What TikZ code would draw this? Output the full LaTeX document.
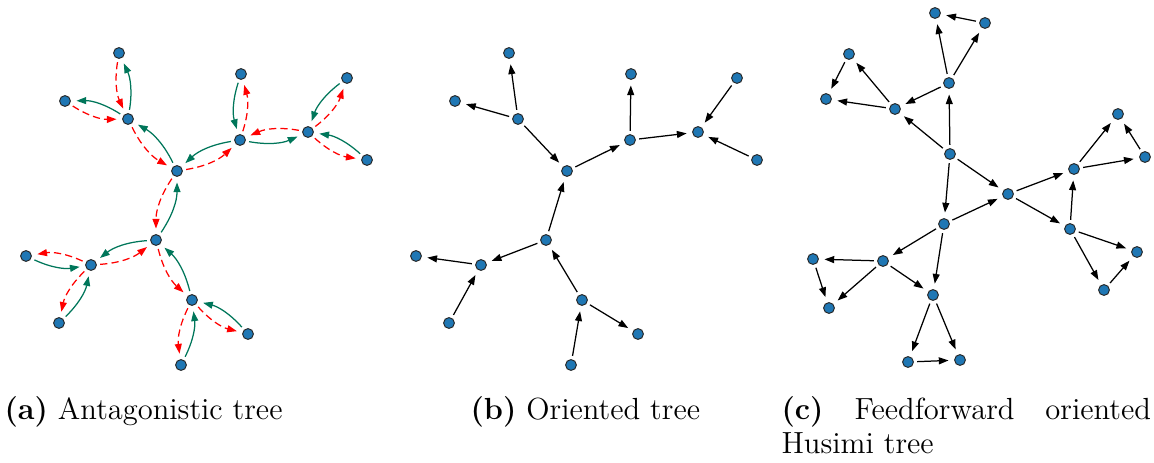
\documentclass[tikz,border=0pt]{standalone}
\usepackage{amsmath}
\usepackage{xcolor}
\usepackage{tikz}
\usetikzlibrary{
  arrows.meta,
  calc
}
\definecolor{netblue}{RGB}{31,119,180}
\definecolor{netgreen}{RGB}{0,118,90}
\tikzset{
  vtx/.style={
    circle,
    fill=netblue,
    draw=black!85,
    line width=0.35pt,
    inner sep=0pt,
    minimum size=3.9pt},
  dedge/.style={
    -{Triangle[length=3.5pt,width=2.5pt]},
    line width=0.45pt,
    shorten >=2pt,
    shorten <=1.2pt},
  gedge/.style={
    dedge,
    draw=netgreen,
    bend right=17},
  redge/.style={
    dedge,
    draw=red,
    dash pattern=on 2.6pt off 1.5pt,
    bend right=17},
  subcap/.style={
    inner sep=0pt,
    font=\fontsize{11}{12.2}\selectfont}
  }

\begin{document}
\begin{tikzpicture}[x=0.36pt, y=-0.36pt]
    \useasboundingbox (0,0) rectangle (1154,462);
    % (a) antagonistic tree
    \node[vtx] (a1) at (119,53) {};
    \node[vtx] (a2) at (65,101) {};
    \node[vtx] (a3) at (128,119) {};
    \node[vtx] (a4) at (177,171) {};
    \node[vtx] (a5) at (241,74) {};
    \node[vtx] (a6) at (347,78) {};
    \node[vtx] (a7) at (240,140) {};
    \node[vtx] (a8) at (308,132) {};
    \node[vtx] (a9) at (367,160) {};
    \node[vtx] (a10) at (156,240) {};
    \node[vtx] (a11) at (26,256) {};
    \node[vtx] (a12) at (91,265) {};
    \node[vtx] (a13) at (59,323) {};
    \node[vtx] (a14) at (192,300) {};
    \node[vtx] (a15) at (248,334) {};
    \node[vtx] (a16) at (181,365) {};
    \draw
    (a3) edge[gedge] (a1)
    (a1) edge[redge] (a3)
    (a3) edge[gedge] (a2)
    (a2) edge[redge] (a3)
    (a4) edge[gedge] (a3)
    (a3) edge[redge] (a4)
    (a7) edge[gedge] (a4)
    (a4) edge[redge] (a7)
    (a5) edge[gedge] (a7)
    (a7) edge[redge] (a5)
    (a7) edge[gedge] (a8)
    (a8) edge[redge] (a7)
    (a6) edge[gedge] (a8)
    (a8) edge[redge] (a6)
    (a9) edge[gedge] (a8)
    (a8) edge[redge] (a9)
    (a10) edge[gedge] (a4)
    (a4) edge[redge] (a10)
    (a10) edge[gedge] (a12)
    (a12) edge[redge] (a10)
    (a11) edge[gedge] (a12)
    (a12) edge[redge] (a11)
    (a13) edge[gedge] (a12)
    (a12) edge[redge] (a13)
    (a14) edge[gedge] (a10)
    (a10) edge[redge] (a14)
    (a15) edge[gedge] (a14)
    (a14) edge[redge] (a15)
    (a16) edge[gedge] (a14)
    (a14) edge[redge] (a16);
    % (b) oriented tree
    \node[vtx] (b1) at (509,53) {};
    \node[vtx] (b2) at (455,101) {};
    \node[vtx] (b3) at (518,119) {};
    \node[vtx] (b4) at (567,171) {};
    \node[vtx] (b5) at (631,74) {};
    \node[vtx] (b6) at (737,78) {};
    \node[vtx] (b7) at (630,140) {};
    \node[vtx] (b8) at (698,132) {};
    \node[vtx] (b9) at (757,160) {};
    \node[vtx] (b10) at (546,240) {};
    \node[vtx] (b11) at (416,256) {};
    \node[vtx] (b12) at (481,265) {};
    \node[vtx] (b13) at (449,323) {};
    \node[vtx] (b14) at (582,300) {};
    \node[vtx] (b15) at (638,334) {};
    \node[vtx] (b16) at (571,365) {};
    \draw [dedge]
    (b3) edge (b1)
    (b3) edge (b2)
    (b3) edge (b4)
    (b4) edge (b7)
    (b7) edge (b5)
    (b7) edge (b8)
    (b6) edge (b8)
    (b9) edge (b8)
    (b10) edge (b4)
    (b10) edge (b12)
    (b12) edge (b11)
    (b13) edge (b12)
    (b14) edge (b10)
    (b14) edge (b15)
    (b16) edge (b14);
    % (c) feedforward Husimi tree
    \node[vtx] (c0) at (950,154) {};
    \node[vtx] (c1) at (1008,194) {};
    \node[vtx] (c2) at (944,224) {};
    \node[vtx] (c3) at (949,83) {};
    \node[vtx] (c4) at (895,109) {};
    \node[vtx] (c5) at (935,13) {};
    \node[vtx] (c6) at (985,23) {};
    \node[vtx] (c7) at (849,54) {};
    \node[vtx] (c8) at (826,99) {};
    \node[vtx] (c9) at (1074,169) {};
    \node[vtx] (c10) at (1118,114) {};
    \node[vtx] (c11) at (1145,157) {};
    \node[vtx] (c12) at (1070,229) {};
    \node[vtx] (c13) at (1137,252) {};
    \node[vtx] (c14) at (1104,290) {};
    \node[vtx] (c15) at (883,261) {};
    \node[vtx] (c16) at (813,259) {};
    \node[vtx] (c17) at (829,308) {};
    \node[vtx] (c18) at (933,295) {};
    \node[vtx] (c19) at (908,362) {};
    \node[vtx] (c20) at (960,360) {};
    \draw [dedge]
    (c0) edge (c3)
    (c0) edge (c4)
    (c0) edge (c1)
    (c0) edge (c2)
    (c2) edge (c1)
    (c3) edge (c4)
    (c3) edge (c5)
    (c3) edge (c6)
    (c6) edge (c5)
    (c4) edge (c7)
    (c4) edge (c8)
    (c7) edge (c8)
    (c1) edge (c9)
    (c1) edge (c12)
    (c12) edge (c9)
    (c9) edge (c10)
    (c9) edge (c11)
    (c11) edge (c10)
    (c12) edge (c13)
    (c12) edge (c14)
    (c14) edge (c13)
    (c2) edge (c15)
    (c2) edge (c18)
    (c15) edge (c18)
    (c15) edge (c16)
    (c15) edge (c17)
    (c16) edge (c17)
    (c18) edge (c19)
    (c18) edge (c20)
    (c19) edge (c20);
    % captions
    \node[subcap, anchor=base west] (capa) at (4,419) {\textbf{(a)} Antagonistic tree};
    \node[subcap, anchor=base west] (capb) at (470,419) {\textbf{(b)} Oriented tree};
    \node[subcap, anchor=north west, text width=133pt, align=justify]
      (capc) at (781,396) {\textbf{(c)} Feedforward oriented Husimi tree};
\end{tikzpicture}
\end{document}
